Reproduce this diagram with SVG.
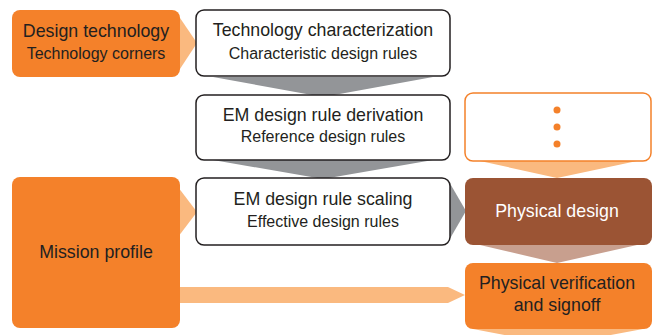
<svg xmlns="http://www.w3.org/2000/svg" width="652" height="335" viewBox="0 0 652 335">
  <style>
    .t1 { font-family: "Liberation Sans", Arial, sans-serif; font-size: 17.8px; fill: #231f20; text-anchor: middle; }
    .t2 { font-family: "Liberation Sans", Arial, sans-serif; font-size: 16px; fill: #231f20; text-anchor: middle; }
    .orange { fill: #f4812a; }
    .step { fill: #ffffff; stroke: #231f20; stroke-width: 1.5; }
    .open { fill: #ffffff; stroke: #f4812a; stroke-width: 1.5; }
    .brown { fill: #9b5434; }
    .a-light { fill: #fab97f; }
    .a-gray { fill: #939598; }
    .a-brown { fill: #c89f8e; }
  </style>

  <!-- connectors (drawn first so the boxes sit on top) -->
  <g id="connectors">
    <polygon class="a-light" points="178,15 197,43 178,72"/>
    <polygon class="a-light" points="178,187 197,212 178,237"/>
    <polygon class="a-light" points="178,287 448,287 465,295 448,303 178,303"/>
    <polygon class="a-gray" points="213,77 433,77 323,97"/>
    <polygon class="a-gray" points="213,160 433,160 323,179"/>
    <polygon class="a-gray" points="448,180 466,211 448,242"/>
    <polygon class="a-light" points="480,161 637,161 557,178"/>
    <polygon class="a-brown" points="480,245 637,245 557,263"/>
    <polygon class="a-light" points="473,329 643,329 557,345"/>
  </g>

  <g id="design-technology">
    <rect class="orange" x="12" y="10" width="168" height="67" rx="8"/>
    <text class="t1" x="96" y="37">Design technology</text>
    <text class="t2" x="96" y="59">Technology corners</text>
  </g>

  <g id="technology-characterization">
    <rect class="step" x="196" y="10" width="254" height="66" rx="8"/>
    <text class="t1" x="323" y="36">Technology characterization</text>
    <text class="t2" x="323" y="59">Characteristic design rules</text>
  </g>

  <g id="em-rule-derivation">
    <rect class="step" x="196" y="95" width="254" height="65" rx="8"/>
    <text class="t1" x="323" y="121">EM design rule derivation</text>
    <text class="t2" x="323" y="142">Reference design rules</text>
  </g>

  <g id="em-rule-scaling">
    <rect class="step" x="196" y="178" width="254" height="67" rx="8"/>
    <text class="t1" x="323" y="205">EM design rule scaling</text>
    <text class="t2" x="323" y="227">Effective design rules</text>
  </g>

  <g id="mission-profile">
    <rect class="orange" x="12" y="177" width="168" height="151" rx="8"/>
    <text class="t1" x="96" y="258">Mission profile</text>
  </g>

  <g id="further-steps">
    <rect class="open" x="465" y="93" width="186" height="68" rx="8"/>
    <circle cx="557" cy="110" r="3.5" fill="#f4812a"/>
    <circle cx="557" cy="127" r="3.5" fill="#f4812a"/>
    <circle cx="557" cy="144" r="3.5" fill="#f4812a"/>
  </g>

  <g id="physical-design">
    <rect class="brown" x="465" y="178" width="187" height="67" rx="8"/>
    <text class="t1" x="557" y="217" style="fill:#ffffff">Physical design</text>
  </g>

  <g id="physical-verification">
    <rect class="orange" x="465" y="263" width="187" height="66" rx="8"/>
    <text class="t1" x="557" y="289">Physical verification</text>
    <text class="t1" x="557" y="311">and signoff</text>
  </g>
</svg>
